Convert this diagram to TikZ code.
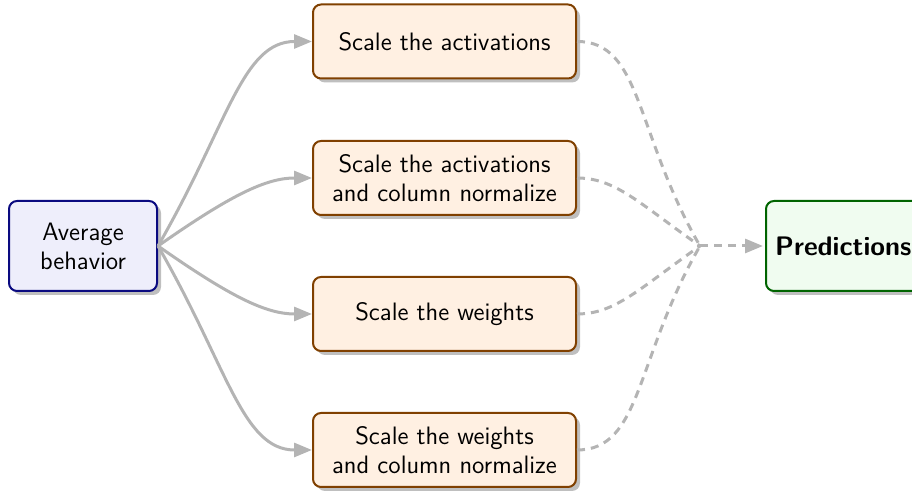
\documentclass[tikz,border=0pt]{standalone}
\usetikzlibrary{arrows.meta,shadows}
\definecolor{avgdraw}{RGB}{10,10,128}
\definecolor{avgfill}{RGB}{238,238,251}
\definecolor{boxdraw}{RGB}{128,64,0}
\definecolor{boxfill}{RGB}{255,240,226}
\definecolor{preddraw}{RGB}{0,100,0}
\definecolor{predfill}{RGB}{240,252,240}
\definecolor{linkgray}{RGB}{180,180,180}
\tikzset{
  base/.style={rounded corners=4pt, line width=1pt, align=center,
    font=\sffamily\fontsize{12.6}{14.4}\selectfont,
    drop shadow={shadow xshift=2pt, shadow yshift=-2pt, fill=black!25, opacity=1}},
  avgbox/.style={base, draw=avgdraw, fill=avgfill, minimum width=74pt, minimum height=45pt},
  stagebox/.style={base, draw=boxdraw, fill=boxfill, minimum width=131.5pt, minimum height=37pt},
  predbox/.style={base, draw=preddraw, fill=predfill, minimum width=74pt, minimum height=45pt, inner sep=4.6pt, font=\sffamily\bfseries\fontsize{13.4}{16}\selectfont},
  link/.style={draw=linkgray, line width=1.5pt, -{Triangle[length=9pt,width=7pt]}},
  dlink/.style={draw=linkgray, line width=1.5pt, dash pattern=on 4pt off 3pt},
}
\begin{document}
\begin{tikzpicture}[x=0.5pt,y=0.5pt]
\useasboundingbox (0,0) rectangle (912,491);
\node[avgbox] (avg) at (83,245) {Average\\behavior};
\node[stagebox] (b1) at (444.5,449.5) {Scale the activations};
\node[stagebox] (b2) at (444.5,313) {Scale the activations\\and column normalize};
\node[stagebox] (b3) at (444.5,177) {Scale the weights};
\node[stagebox] (b4) at (444.5,41) {Scale the weights\\and column normalize};
\node[predbox, anchor=west] (pred) at (765,245) {Predictions};
\coordinate (m) at (700,245);

\draw[link] (avg.east) to[out=60,in=180,out looseness=1.4,in looseness=0.7] (b1.west);
\draw[link] (avg.east) to[out=35,in=180,out looseness=1.35,in looseness=0.7] (b2.west);
\draw[link] (avg.east) to[out=-35,in=180,out looseness=1.35,in looseness=0.7] (b3.west);
\draw[link] (avg.east) to[out=-60,in=180,out looseness=1.4,in looseness=0.7] (b4.west);

\draw[dlink] (b1.east) to[out=0,in=120,out looseness=0.7,in looseness=1.4] (m);
\draw[dlink] (b2.east) to[out=0,in=145,out looseness=0.7,in looseness=1.35] (m);
\draw[dlink] (b3.east) to[out=0,in=-145,out looseness=0.7,in looseness=1.35] (m);
\draw[dlink] (b4.east) to[out=0,in=-120,out looseness=0.7,in looseness=1.4] (m);
\draw[dlink, -{Triangle[length=9pt,width=7pt]}, shorten >=1pt] (m) -- (pred.west);
\end{tikzpicture}
\end{document}
